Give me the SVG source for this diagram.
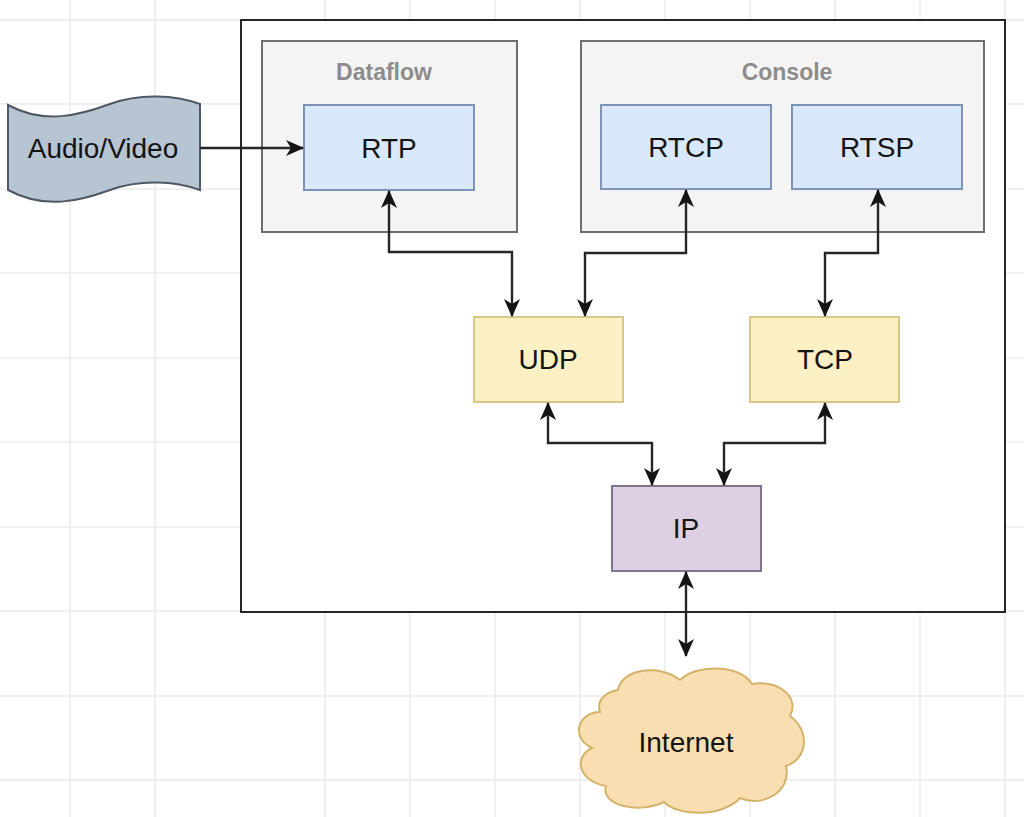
<svg xmlns="http://www.w3.org/2000/svg" width="1024" height="817" viewBox="0 0 1024 817">
<style>
.grid{stroke:#ebebeb;stroke-width:1.5}
.lbl{font-family:"Liberation Sans",Arial,sans-serif;font-size:28px;fill:#141414;text-anchor:middle;dominant-baseline:central}
.glbl{font-family:"Liberation Sans",Arial,sans-serif;font-size:23px;font-weight:bold;fill:#8c8c8c;text-anchor:middle;dominant-baseline:central}
.grp{fill:#f4f4f4;stroke:#6e6e6e;stroke-width:2}
.blue{fill:#dae8fc;stroke:#7d93b8;stroke-width:2}
.yel{fill:#fbf0c4;stroke:#d8c68a;stroke-width:2}
.pur{fill:#dcd0e2;stroke:#7f748a;stroke-width:2}
.conn{fill:none;stroke:#262626;stroke-width:2.4}
</style>
<defs>
<marker id="arr" viewBox="0 0 18 16" refX="17" refY="8" markerWidth="18" markerHeight="16" orient="auto-start-reverse" markerUnits="userSpaceOnUse">
<path d="M0,0 L18,8 L0,16 L5,8 Z" fill="#141414"/>
</marker>
</defs>
<rect width="1024" height="817" fill="#ffffff"/>
<g id="grid">
<path class="grid" d="M70,0V817M155,0V817M325,0V817M410,0V817M495,0V817M580,0V817M665,0V817M750,0V817M835,0V817M920,0V817M1005,0V817M0,20H1024M0,104H1024M0,189H1024M0,273H1024M0,358H1024M0,442H1024M0,527H1024M0,611H1024M0,696H1024M0,780H1024"/>
</g>
<g id="container">
<rect x="241" y="20" width="764" height="592" fill="#ffffff" stroke="#262626" stroke-width="2"/>
</g>
<g id="dataflow">
<rect class="grp" x="262" y="41" width="255" height="191"/>
<text class="glbl" x="384" y="72">Dataflow</text>
</g>
<g id="console">
<rect class="grp" x="581" y="41" width="403" height="191"/>
<text class="glbl" x="787" y="72">Console</text>
</g>
<g id="audio-video">
<path d="M8,105 C45,125 80,115 110,104 C140,93 175,95 200,104 L200,190 C175,181 140,179 110,190 C80,201 45,210 8,190 Z" fill="#b7c4d1" stroke="#4f5863" stroke-width="2"/>
<text class="lbl" x="103" y="148">Audio/Video</text>
</g>
<g id="rtp">
<rect class="blue" x="304" y="105" width="170" height="85"/>
<text class="lbl" x="389" y="148">RTP</text>
</g>
<g id="rtcp">
<rect class="blue" x="601" y="105" width="170" height="84"/>
<text class="lbl" x="686" y="147">RTCP</text>
</g>
<g id="rtsp">
<rect class="blue" x="792" y="105" width="170" height="84"/>
<text class="lbl" x="877" y="147">RTSP</text>
</g>
<g id="udp">
<rect class="yel" x="474" y="317" width="149" height="85"/>
<text class="lbl" x="548" y="359">UDP</text>
</g>
<g id="tcp">
<rect class="yel" x="750" y="317" width="149" height="85"/>
<text class="lbl" x="825" y="359">TCP</text>
</g>
<g id="ip">
<rect class="pur" x="612" y="486" width="149" height="85"/>
<text class="lbl" x="686" y="528">IP</text>
</g>
<g id="internet">
<path d="M618,690 C622,668 660,664 680,680 C696,664 740,664 752,684 C780,680 800,698 790,716 C812,732 806,760 786,766 C792,792 762,808 740,798 C724,816 680,818 664,802 C640,814 600,806 606,786 C580,782 572,758 592,748 C570,738 578,712 600,712 C596,700 606,692 618,690 Z" fill="#f9deb1" stroke="#d4b26a" stroke-width="2"/>
<text class="lbl" x="686" y="742">Internet</text>
</g>
<g id="connectors">
<path class="conn" d="M200,148 H303" marker-end="url(#arr)"/>
<path class="conn" d="M389,191 V252 H512 V316" marker-start="url(#arr)" marker-end="url(#arr)"/>
<path class="conn" d="M686,190 V253 H585 V316" marker-start="url(#arr)" marker-end="url(#arr)"/>
<path class="conn" d="M878,190 V253 H825 V316" marker-start="url(#arr)" marker-end="url(#arr)"/>
<path class="conn" d="M548,403 V443 H652 V485" marker-start="url(#arr)" marker-end="url(#arr)"/>
<path class="conn" d="M825,403 V443 H724 V485" marker-start="url(#arr)" marker-end="url(#arr)"/>
<path class="conn" d="M686,572 V656" marker-start="url(#arr)" marker-end="url(#arr)"/>
</g>
</svg>
